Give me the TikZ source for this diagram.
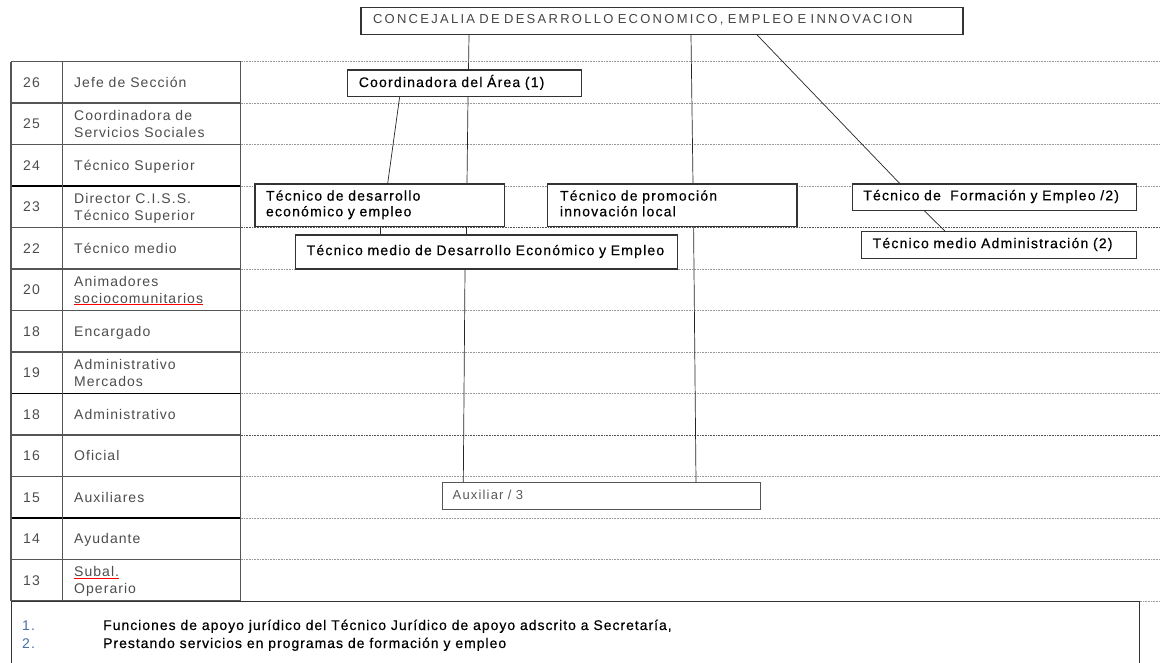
\documentclass[tikz,border=0pt]{standalone}
\usepackage{fontspec}
\setmainfont{Liberation Sans}
\newfontfamily\boxfont[LetterSpace=7.5]{Liberation Sans}
\newfontfamily\orgfont[LetterSpace=8.5,FakeBold=0.4]{Liberation Sans}
\newfontfamily\notefont[LetterSpace=7,FakeBold=0.4]{Liberation Sans}
\newfontfamily\topfont[LetterSpace=17.5]{Liberation Sans}
\newfontfamily\auxfont[LetterSpace=9]{Liberation Sans}
\definecolor{gridc}{HTML}{555555}
\definecolor{dotc}{HTML}{9A9A9A}
\definecolor{dotdark}{HTML}{555555}
\definecolor{boxc}{HTML}{333333}
\definecolor{tabtxt}{HTML}{4D4D4D}
\definecolor{toptxt}{HTML}{454545}
\definecolor{auxtxt}{HTML}{5A5A5A}
\definecolor{numblue}{HTML}{4A6FA5}
\newsavebox\ulbox
\newcommand\redul[1]{\sbox\ulbox{#1}\rlap{\usebox\ulbox}{\color{red}\rule[-1.8pt]{\wd\ulbox}{0.8pt}}}
\tikzset{
  dotline/.style={draw=dotc, line width=0.7pt, dash pattern=on 0.8pt off 0.8pt},
  dotlinedark/.style={draw=dotdark, line width=0.7pt, dash pattern=on 0.8pt off 0.8pt},
  gridline/.style={draw=gridc, line width=1.4pt},
  gridthick/.style={draw=black, line width=1.8pt},
  numtxt/.style={anchor=west, inner sep=0pt, text=tabtxt, font=\boxfont\fontsize{14}{17}\selectfont},
  labtxt/.style={anchor=west, inner sep=0pt, align=left, text=tabtxt, font=\boxfont\fontsize{14}{17}\selectfont},
  orgbox/.style={draw=boxc, line width=1.1pt, fill=white, inner xsep=11pt, inner ysep=0pt, align=left, text=black, font=\orgfont\fontsize{14}{15.7}\selectfont},
  topbox/.style={orgbox, inner xsep=12pt, text=toptxt, font=\topfont\fontsize{13}{15}\selectfont},
  auxbox/.style={orgbox, draw=gridc, line width=0.9pt, inner xsep=10pt, text=auxtxt, font=\auxfont\fontsize{13}{15}\selectfont},
  conn/.style={draw=black!85, line width=0.7pt},
  notetxt/.style={anchor=base west, inner sep=0pt, text=black, font=\notefont\fontsize{14}{18}\selectfont},
  notenum/.style={notetxt, text=numblue, font=\boxfont\fontsize{14}{18}\selectfont}
}
\begin{document}
\begin{tikzpicture}[x=1pt,y=-1pt]
\useasboundingbox (0,0) rectangle (1160,663);
\fill[white] (0,0) rectangle (1160,663);
\clip (0,0) rectangle (1160,663);

% dotted grade lines
\foreach \i in {0,...,13} {
  \draw[dotline] (240.7,{61.7+\i*41.48}) -- (1160,{61.7+\i*41.48});
}
\foreach \i in {4,9} {
  \draw[dotlinedark] (240.7,{61.7+\i*41.48}) -- (1160,{61.7+\i*41.48});
}

% table grid
\foreach \i in {0,...,13} {
  \draw[gridline] (11,{61.7+\i*41.48}) -- (240.7,{61.7+\i*41.48});
}
\foreach \i in {3,8,11} {
  \draw[gridthick] (11,{61.7+\i*41.48}) -- (240.7,{61.7+\i*41.48});
}
\foreach \x in {11,62.7,240.7} {
  \draw[gridline] (\x,61.7) -- (\x,600.9);
}

% table texts
\foreach \i/\n/\t in {
  0/26/{Jefe de Sección},
  1/25/{Coordinadora de\\\strut Servicios Sociales},
  2/24/{Técnico Superior},
  3/23/{Director C.I.S.S.\\\strut Técnico Superior},
  4/22/{Técnico medio},
  5/20/{Animadores\\\strut\redul{sociocomunitarios}},
  6/18/{Encargado},
  7/19/{Administrativo\\\strut Mercados},
  8/18/{Administrativo},
  9/16/{Oficial},
  10/15/{Auxiliares},
  11/14/{Ayudante},
  12/13/{\redul{Subal.}\\\strut Operario}} {
  \node[numtxt] (num\i) at (23,{61.7+(\i+0.5)*41.48+1.6}) {\strut\n};
  \node[labtxt] (lab\i) at (74,{61.7+(\i+0.5)*41.48+1.6}) {\strut\t};
}

% organisation boxes
\node[topbox, text width=578pt, minimum height=27pt] (top) at (662,20.8)
  {\strut CONCEJALIA DE DESARROLLO ECONOMICO, EMPLEO E INNOVACION};
\node[orgbox, text width=211.9pt, minimum height=26.7pt] (coord) at (464.75,83.35)
  {\strut Coordinadora del Área (1)};
\node[orgbox, text width=227.3pt, minimum height=42.7pt] (desa) at (379.65,205.35)
  {\strut Técnico de desarrollo\\\strut económico y empleo};
\node[orgbox, inner xsep=12.5pt, text width=224.5pt, minimum height=42.7pt] (promo) at (672.25,205.35)
  {\strut Técnico de promoción\\\strut innovación local};
\node[orgbox, text width=262.4pt, minimum height=26.3pt] (form) at (994.5,197.15)
  {\strut Técnico de~ Formación y Empleo /2)};
\node[orgbox, text width=360pt, minimum height=34pt] (medio) at (486.7,252)
  {\strut Técnico medio de Desarrollo Económico y Empleo};
\node[orgbox, text width=253pt, minimum height=26.6pt] (admin) at (999.2,245)
  {\strut Técnico medio Administración (2)};
\node[auxbox, text width=298pt, minimum height=26.6pt] (aux) at (601.7,496)
  {\strut Auxiliar / 3};

% connectors
\draw[conn] ([xshift=-193pt]top.south) -- ([xshift=3.75pt]coord.north);
\draw[conn] ([xshift=3.25pt]coord.south) -- ([xshift=87.35pt]desa.north);
\draw[conn] ([xshift=-65.15pt]coord.south) -- ([xshift=8.05pt]desa.north);
\draw[conn] ([xshift=1.05pt]desa.south) -- ([xshift=-106pt]medio.north);
\draw[conn] ([xshift=87.05pt]desa.south) -- ([xshift=-20pt]medio.north);
\draw[conn] ([xshift=-21.7pt]medio.south) -- ([xshift=-138.4pt]aux.north);
\draw[conn] ([xshift=29pt]top.south) -- ([xshift=20.75pt]promo.north);
\draw[conn] ([xshift=21.35pt]promo.south) -- ([xshift=94.3pt]aux.north);
\draw[conn] ([xshift=95pt]top.south) -- ([xshift=-94.8pt]form.north);
\draw[conn] ([xshift=-70.1pt]form.south) -- ([xshift=-54.2pt]admin.north);

% notes box
\node[draw=boxc, line width=1.3pt, fill=white, anchor=north west, minimum width=1127.6pt, minimum height=80pt, inner sep=0pt] (notes) at (11,600.9) {};
\node[notenum] (n1) at (22,630) {1.};
\node[notetxt] (t1) at (103,630) {Funciones de apoyo jurídico del Técnico Jurídico de apoyo adscrito a Secretaría,};
\node[notenum] (n2) at (22,648) {2.};
\node[notetxt] (t2) at (103,648) {Prestando servicios en programas de formación y empleo};
\end{tikzpicture}
\end{document}
